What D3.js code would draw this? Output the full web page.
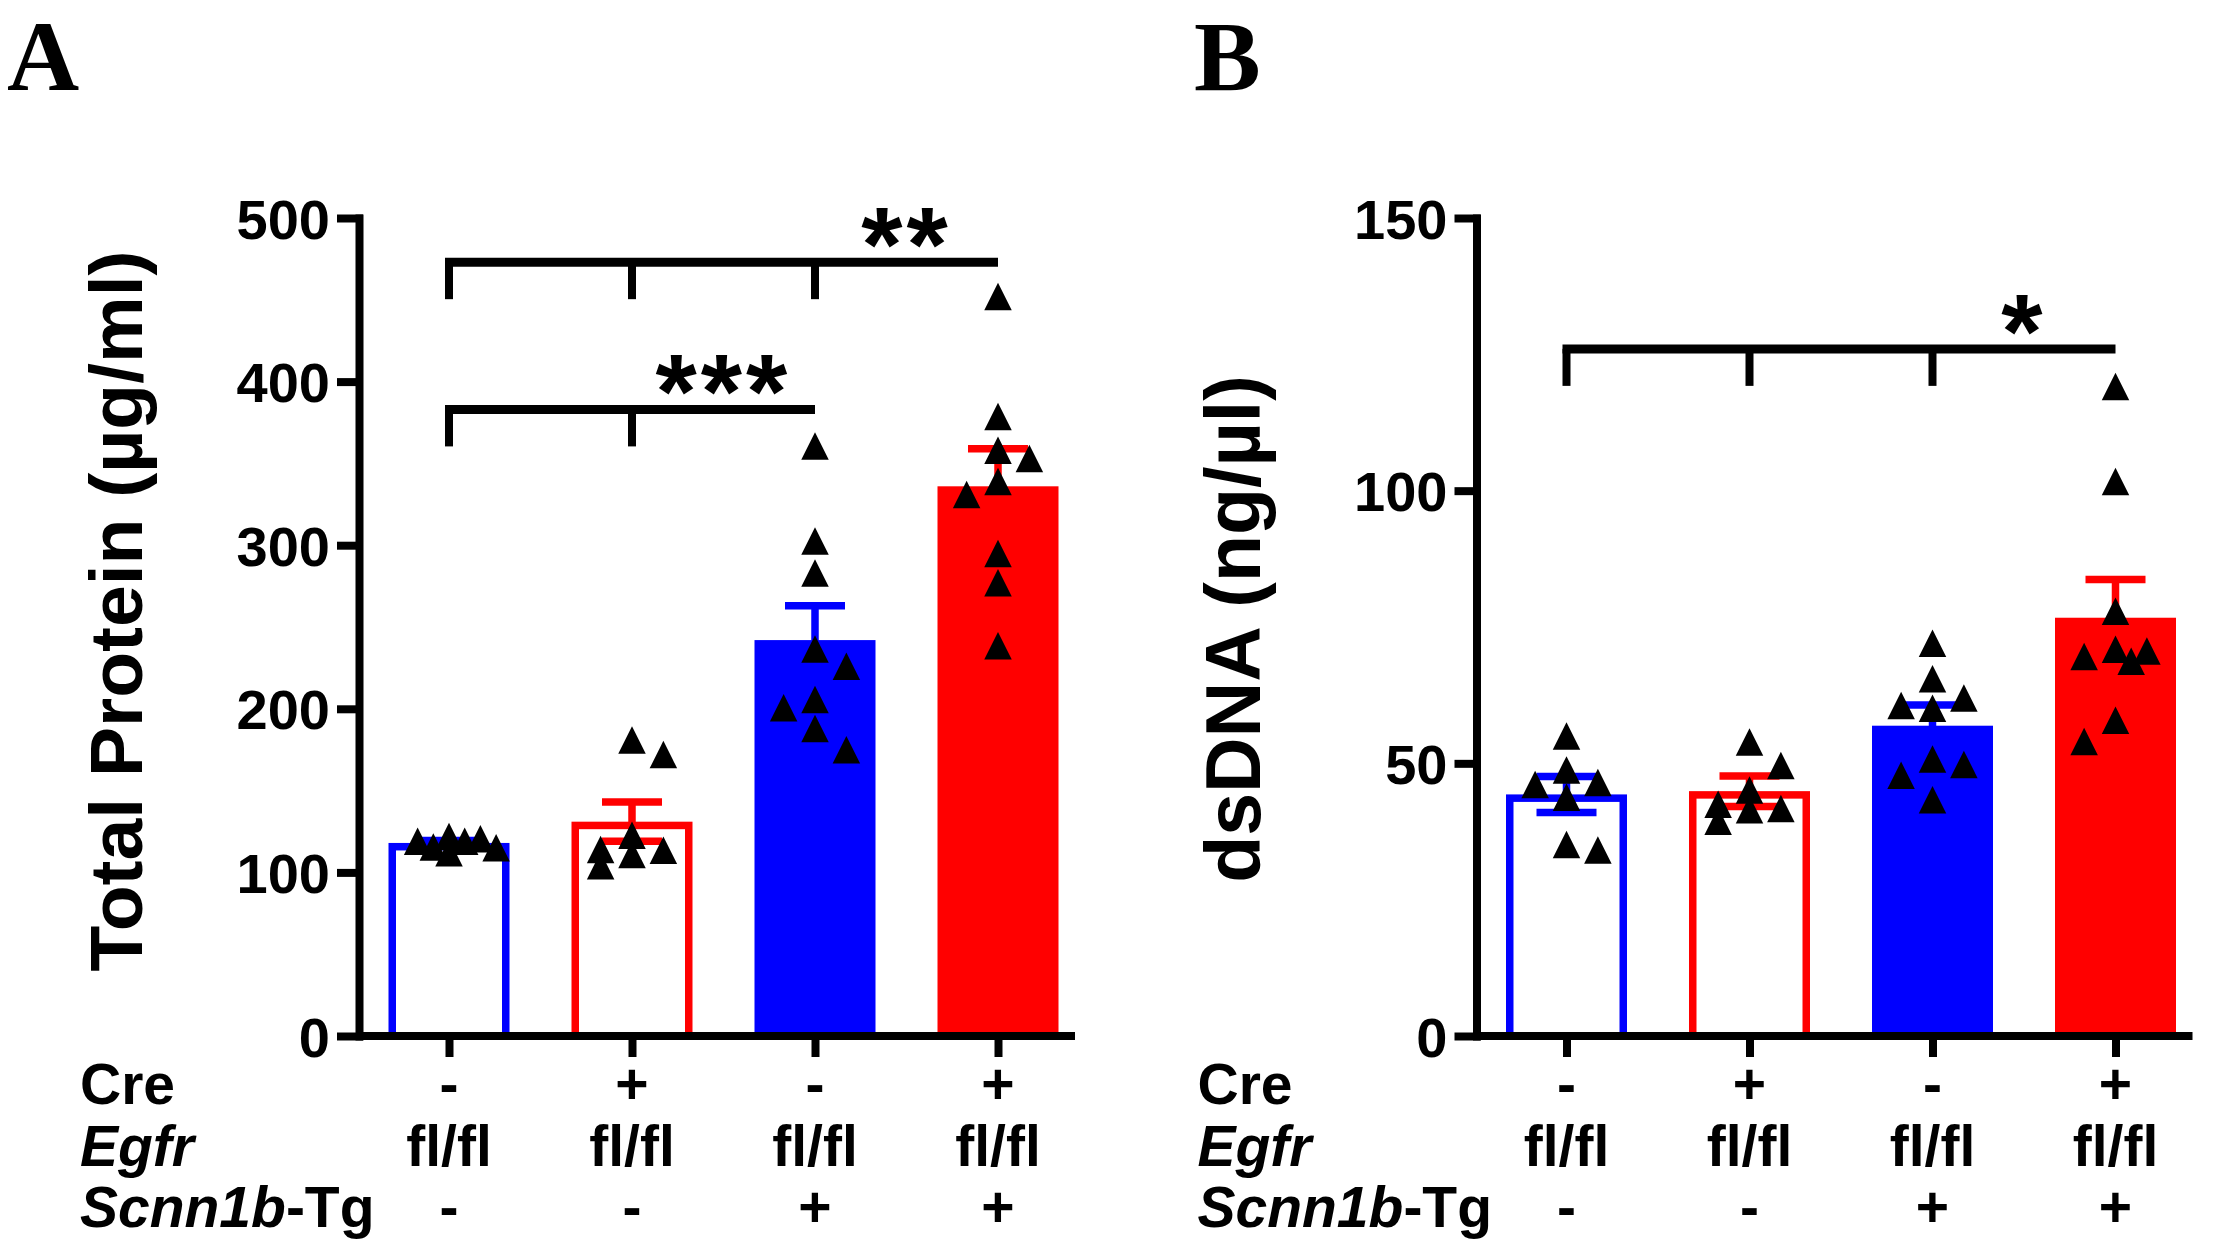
<!DOCTYPE html>
<html>
<head>
<meta charset="utf-8">
<script src="https://cdn.jsdelivr.net/npm/d3@7"></script>
<style>
  body { margin: 0; background: #fff; }
  svg text { font-family: "Liberation Sans", Arial, sans-serif; font-weight: bold; fill: #000; }
</style>
</head>
<body>
<script>
const width = 2216;
const height = 1248;

// groups, left to right
const groups = ["g1", "g2", "g3", "g4"];
const creRow = ["-", "+", "-", "+"];
const egfrRow = ["fl/fl", "fl/fl", "fl/fl", "fl/fl"];
const tgRow = ["-", "-", "+", "+"];

// panel A: total protein (ug/ml)
const proteinTicks = [0, 100, 200, 300, 400, 500];
const proteinMean = [118, 131, 242, 336];
const proteinSem = [1.5, 12, 21, 23];
const proteinPoints = [
  [115.5, 122, 119, 120.5, 112, 119, 115],
  [122.7, 104, 172, 114, 181, 111, 113.5],
  [360.7, 302.5, 283, 236.5, 226, 205.7, 200.6, 188, 175],
  [452, 378.6, 358, 339, 353, 331, 295, 277, 238.5]
];
const proteinBrackets = [
  { from: 0, to: 3, level: 473, label: "**" },
  { from: 0, to: 2, level: 383, label: "***" }
];

// panel B: dsDNA (ng/ul)
const dnaTicks = [0, 50, 100, 150];
const dnaMean = [44.3, 44.9, 56.9, 76.7];
const dnaSem = [3.3, 2.8, 3.8, 7];
const dnaPoints = [
  [46.1, 55, 48.8, 43.8, 46.5, 34.1, 35.1],
  [45.1, 39.4, 49.6, 42.5, 53.9, 41.5, 41.7],
  [72, 65.5, 62, 60.6, 60.1, 50.8, 49.8, 47.8, 43.3],
  [119.1, 101.7, 77.9, 70.9, 70.6, 69.6, 68.7, 57.9, 54]
];
const dnaBrackets = [
  { from: 0, to: 3, level: 126, label: "*" }
];

const barColor = ["#0000ff", "#ff0000", "#0000ff", "#ff0000"];
const barFilled = [false, false, true, true];

const svg = d3.select("body").append("svg")
  .attr("width", width)
  .attr("height", height);

const baseY = 1036;
const topY = 218;

function tri(x, y) {
  const h = 13.75;
  return "M" + x + "," + (y - h) + "L" + (x + h) + "," + (y + h) + "L" + (x - h) + "," + (y + h) + "Z";
}

// column scatter: put each point in the nearest free slot, else the least crowded one
function swarm(vals, y) {
  const step = 15.7, size = 27;
  const placed = [];
  const off = new Array(vals.length).fill(0);
  let flip = 1;
  const order = vals.map((v, i) => i).sort((a, b) => vals[b] - vals[a]);
  order.forEach(function (i) {
    const py = y(vals[i]);
    const slots = [0, 2 * flip, -2 * flip, flip, -flip, 3 * flip, -3 * flip];
    let best = 0, bestScore = -1;
    for (const s of slots) {
      let score = Infinity;
      placed.forEach(function (p) {
        score = Math.min(score, Math.max(Math.abs(s * step - p.x), Math.abs(py - p.y)));
      });
      if (score >= size) { best = s; bestScore = score; break; }
      if (score > bestScore) { best = s; bestScore = score; }
    }
    if (best !== 0) flip = -flip;
    placed.push({ x: best * step, y: py });
    off[i] = best * step;
  });
  return off;
}

function panel(o) {
  const g = svg.append("g");
  const y = d3.scaleLinear().domain([0, o.max]).range([baseY, topY]);
  const x = d3.scalePoint().domain(groups).range([o.left + 90, o.left + 639]);
  const bw = 121, sw = 7.5;

  // bars
  g.selectAll("rect.bar")
    .data(o.mean)
    .enter()
    .append("rect")
      .attr("x", (d, i) => x(groups[i]) - bw / 2 + (barFilled[i] ? 0 : sw / 2))
      .attr("y", (d, i) => y(d) + (barFilled[i] ? 0 : sw / 2))
      .attr("width", (d, i) => barFilled[i] ? bw : bw - sw)
      .attr("height", (d, i) => baseY - y(d) - (barFilled[i] ? 0 : sw / 2))
      .attr("fill", (d, i) => barFilled[i] ? barColor[i] : "none")
      .attr("stroke", (d, i) => barFilled[i] ? "none" : barColor[i])
      .attr("stroke-width", sw);

  // error bars (SEM)
  const eb = g.selectAll("g.err")
    .data(o.mean)
    .enter()
    .append("g")
      .attr("stroke", (d, i) => barColor[i])
      .attr("stroke-width", sw);
  eb.append("line")
    .attr("x1", (d, i) => x(groups[i])).attr("x2", (d, i) => x(groups[i]))
    .attr("y1", (d, i) => y(d - o.sem[i])).attr("y2", (d, i) => y(d + o.sem[i]));
  eb.append("line")
    .attr("x1", (d, i) => x(groups[i]) - 30).attr("x2", (d, i) => x(groups[i]) + 30)
    .attr("y1", (d, i) => y(d + o.sem[i])).attr("y2", (d, i) => y(d + o.sem[i]));
  eb.append("line")
    .attr("x1", (d, i) => x(groups[i]) - 30).attr("x2", (d, i) => x(groups[i]) + 30)
    .attr("y1", (d, i) => y(d - o.sem[i])).attr("y2", (d, i) => y(d - o.sem[i]));

  // individual animals
  o.points.forEach(function (vals, gi) {
    const off = swarm(vals, y);
    g.selectAll(null)
      .data(vals)
      .enter()
      .append("path")
        .attr("d", (d, i) => tri(x(groups[gi]) + off[i], y(d)))
        .attr("fill", "#000");
  });

  // axes
  const ya = g.append("g")
    .attr("transform", "translate(" + o.left + ",0)")
    .call(d3.axisLeft(y).tickValues(o.ticks).tickSize(18).tickSizeOuter(0).tickPadding(11));
  ya.attr("font-size", null).attr("font-family", null);
  ya.select(".domain").attr("stroke-width", 8).attr("stroke-linecap", "square");
  ya.selectAll(".tick line").attr("stroke-width", 8).attr("stroke-linecap", "square");
  ya.selectAll(".tick text").style("font-size", "56px").attr("dy", "0.36em");

  g.append("line")
    .attr("x1", o.left).attr("x2", o.left + 716)
    .attr("y1", baseY).attr("y2", baseY)
    .attr("stroke", "#000").attr("stroke-width", 8);
  const xa = g.append("g")
    .attr("transform", "translate(0," + baseY + ")")
    .call(d3.axisBottom(x).tickSize(21).tickFormat(""));
  xa.select(".domain").remove();
  xa.selectAll(".tick line").attr("stroke-width", 8);

  // significance brackets
  o.brackets.forEach(function (b) {
    const by = y(b.level);
    g.append("line")
      .attr("x1", x(groups[b.from]) - 4).attr("x2", x(groups[b.to]))
      .attr("y1", by).attr("y2", by)
      .attr("stroke", "#000").attr("stroke-width", 9);
    for (let i = b.from; i < b.to; i++) {
      g.append("line")
        .attr("x1", x(groups[i])).attr("x2", x(groups[i]))
        .attr("y1", by).attr("y2", by + 37)
        .attr("stroke", "#000").attr("stroke-width", 8);
    }
    g.append("text")
      .attr("x", (x(groups[b.to - 1]) + x(groups[b.to])) / 2)
      .attr("y", by + 19)
      .attr("text-anchor", "middle")
      .attr("letter-spacing", 4)
      .style("font-size", "106px")
      .text(b.label);
  });

  // genotype rows under the axis
  const rowY = [1104, 1166, 1227];
  const lx = o.left - 279;
  const fs = "57px";
  g.append("text").attr("x", lx).attr("y", rowY[0]).style("font-size", fs).text("Cre");
  g.append("text").attr("x", lx).attr("y", rowY[1]).style("font-size", fs)
    .style("font-style", "italic").text("Egfr");
  const t3 = g.append("text").attr("x", lx).attr("y", rowY[2]).style("font-size", fs);
  t3.append("tspan").style("font-style", "italic").text("Scnn1b");
  t3.append("tspan").text("-Tg");
  [creRow, egfrRow, tgRow].forEach(function (row, r) {
    g.selectAll(null)
      .data(row)
      .enter()
      .append("text")
        .attr("x", (d, i) => x(groups[i]))
        .attr("y", rowY[r])
        .attr("text-anchor", "middle")
        .style("font-size", fs)
        .text(d => d);
  });

  // axis title
  g.append("text")
    .attr("transform", "translate(" + (o.left - 217) + "," + o.titleY + ") rotate(-90)")
    .attr("text-anchor", "middle")
    .style("font-size", o.titleSize)
    .text(o.title);

  // panel letter
  g.append("text")
    .attr("x", o.letterX)
    .attr("y", 90)
    .style("font-family", "'Liberation Serif', 'Times New Roman', serif")
    .style("font-size", "100px")
    .text(o.letter);
}

panel({
  left: 359, max: 500, ticks: proteinTicks,
  mean: proteinMean, sem: proteinSem, points: proteinPoints, brackets: proteinBrackets,
  title: "Total Protein (\u00b5g/ml)", titleY: 611, titleSize: "75px", letter: "A", letterX: 7
});

panel({
  left: 1476.5, max: 150, ticks: dnaTicks,
  mean: dnaMean, sem: dnaSem, points: dnaPoints, brackets: dnaBrackets,
  title: "dsDNA (ng/\u00b5l)", titleY: 629, titleSize: "77px", letter: "B", letterX: 1194
});
</script>
</body>
</html>
